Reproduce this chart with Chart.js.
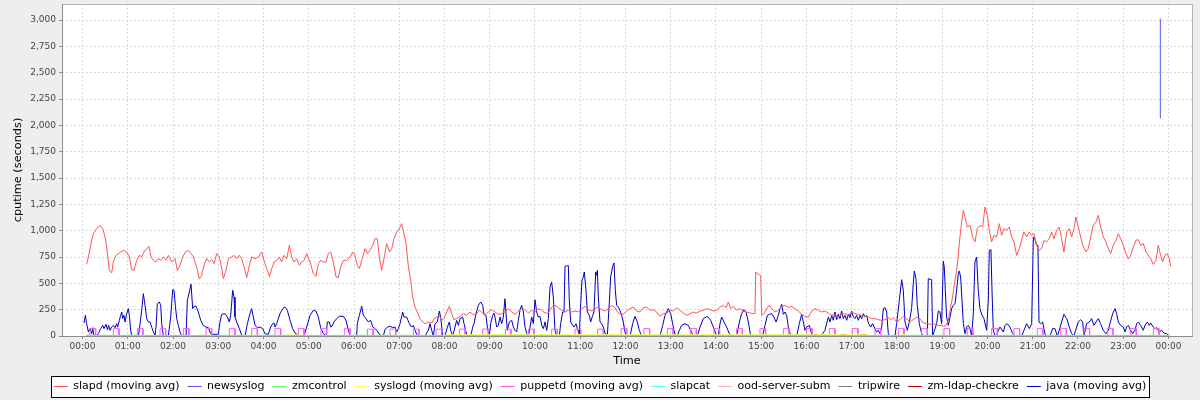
<!DOCTYPE html>
<html>
<head>
<meta charset="utf-8">
<script src="https://cdn.jsdelivr.net/npm/chart.js@4/dist/chart.umd.min.js"></script>
<style>
html,body{margin:0;padding:0;background:#eeeeee;}
#wrap{width:1200px;height:400px;}
</style>
</head>
<body>
<div id="wrap"><canvas id="c" width="1200" height="400"></canvas></div>
<script>
// ---------- axis ticks ----------
const hourTicks = [0,60,120,180,240,300,360,420,480,540,600,660,720,780,840,900,960,1020,1080,1140,1200,1260,1320,1380,1440];
const hourLabels = ['00:00','01:00','02:00','03:00','04:00','05:00','06:00','07:00','08:00','09:00','10:00','11:00','12:00','13:00','14:00','15:00','16:00','17:00','18:00','19:00','20:00','21:00','22:00','23:00','00:00'];
const yTickValues = [0,250,500,750,1000,1250,1500,1750,2000,2250,2500,2750,3000];
const yTickLabels = ['0','250','500','750','1,000','1,250','1,500','1,750','2,000','2,250','2,500','2,750','3,000'];

const seriesNames = ['slapd (moving avg)','newsyslog','zmcontrol','syslogd (moving avg)','puppetd (moving avg)','slapcat','ood-server-subm','tripwire','zm-ldap-checkre','java (moving avg)'];

// ---------- slapd (minutes since 00:00, cputime seconds) ----------
const slapdTime = [5.5,7.8,12.2,14.4,18.8,23.2,26.8,29.9,32.1,35.6,38.7,40.9,44.4,47.5,50.6,54.2,58.6,62.1,65.2,68.3,71.8,75.4,78.5,81.6,85.1,88.2,90.8,94.0,97.5,100.6,103.7,107.2,110.7,113.8,118.2,122.7,125.8,129.3,132.8,136.4,140.4,143.9,147.0,151.4,154.9,158.0,161.1,164.7,168.2,171.3,174.4,177.9,181.5,184.6,186.8,190.3,193.4,197.8,200.9,204.4,208.0,211.1,214.2,217.7,221.2,224.3,228.8,233.2,237.6,240.7,244.2,247.8,250.9,254.0,257.5,261.0,264.1,267.2,270.7,274.3,277.4,280.5,284.0,287.5,290.6,293.7,297.3,301.7,306.1,309.6,312.7,315.8,319.4,322.9,326.0,329.1,332.6,336.2,339.3,342.3,345.9,350.3,354.7,358.3,361.4,
364.4,367.1,370.2,374.6,377.7,381.2,384.8,387.9,390.9,393.6,396.7,399.8,403.3,406.9,410.0,413.0,416.6,420.1,423.2,425.4,429.0,432.1,435.1,437.8,440.9,444.0,447.5,451.1,454.2,458.6,463.0,466.1,469.6,473.2,476.2,479.3,482.9,486.4,489.5,492.6,496.1,500.6,505.0,509.4,513.8,517.4,521.8,526.2,529.3,533.7,538.1,542.6,547.0,551.4,555.8,560.2,564.7,569.1,573.5,577.9,582.3,586.8,591.2,595.6,600.0,604.4,608.9,613.3,617.7,622.1,626.5,631.0,635.4,639.8,644.2,648.6,653.1,657.5,661.9,666.3,670.7,675.2,679.6,684.0,688.4,692.8,697.3,701.7,706.1,710.5,714.9,
717.1,721.5,726.0,730.4,734.8,739.2,743.6,748.1,752.5,756.9,761.3,765.7,770.2,774.6,779.0,783.4,787.8,792.3,796.7,801.1,805.5,809.9,814.4,818.8,823.2,827.6,832.0,836.5,840.9,845.3,849.7,853.3,856.4,859.4,863.0,867.4,871.8,876.2,880.7,885.1,889.5,891.7,892.6,896.1,899.2,900.6,903.6,907.2,910.7,913.8,918.2,922.7,927.1,931.5,935.9,940.3,944.8,949.2,953.6,958.0,962.4,966.9,971.3,975.7,980.1,984.5,989.0,993.4,997.8,1002.2,1006.6,1011.1,1015.5,1019.9,1024.3,1028.7,1033.2,1037.6,1042.0,1046.4,1050.8,1055.3,1059.7,1064.1,1068.5,1072.9,
1075.1,1079.5,1084.0,1088.4,1092.8,1097.2,1101.6,1106.1,1110.5,1114.9,1119.3,1123.7,1128.2,1132.6,1137.0,1141.4,1145.0,1148.1,1151.1,1153.8,1156.9,1159.1,1161.3,1163.5,1165.7,1168.0,1170.2,1173.2,1176.8,1180.3,1183.4,1186.5,1190.0,1193.6,1196.7,1199.8,1202.4,1205.5,1208.6,1212.1,1215.7,1218.8,1221.9,1225.4,1228.9,1232.0,1235.1,1238.7,1242.2,1245.3,1248.4,1251.9,1255.5,1258.6,1261.6,1265.2,1268.7,1271.8,1274.9,1278.4,1282.0,1285.1,1288.2,1291.7,1295.2,1298.3,1301.4,1305.0,1308.5,1311.6,1314.7,1317.3,1320.4,1323.5,1327.1,1330.6,1333.7,1336.8,1340.3,1343.9,1347.0,1350.0,1353.6,1357.1,1360.2,1363.3,1366.8,1370.4,1373.5,1376.6,1380.1,1383.6,1386.7,1389.8,1393.4,1396.9,1400.0,1403.1,1406.6,1410.2,1413.3,1416.3,1419.9,1423.4,1426.5,1429.6,1432.3,1435.4,1438.5,1441.1,1442.9];
const slapdValue = [680,750,908,972,1019,1051,1019,940,845,623,598,703,766,782,798,813,798,750,630,623,718,766,750,798,829,851,750,718,703,734,718,750,718,766,703,734,623,671,750,798,813,782,750,655,544,576,671,734,703,725,687,782,750,639,544,623,734,750,766,734,766,734,655,554,671,750,734,750,798,718,639,566,639,703,718,750,703,766,734,861,750,703,734,671,703,718,782,703,592,566,687,718,703,703,782,798,703,560,554,655,718,718,750,798,766,
671,639,718,829,782,813,861,924,924,750,623,734,877,798,829,924,987,1019,1066,1003,877,655,529,370,275,228,165,133,117,133,123,165,180,196,149,165,228,282,212,155,165,187,212,196,228,206,206,244,228,196,228,250,228,206,212,228,260,228,206,237,260,250,218,244,228,260,244,218,218,275,291,269,244,228,244,228,237,228,260,282,250,237,260,275,250,237,260,291,269,218,206,
206,237,260,275,237,228,269,275,244,250,228,187,212,218,244,237,269,244,218,196,212,228,218,237,244,260,250,237,244,275,291,269,323,260,282,244,260,237,228,218,212,212,608,585,576,196,212,260,291,260,228,244,282,291,269,282,260,237,206,187,180,237,260,244,228,237,218,196,206,180,206,212,187,228,212,206,196,187,180,165,165,155,149,155,174,155,
174,133,155,187,165,133,155,180,165,123,117,111,117,104,101,92,101,149,275,370,529,623,766,940,1082,1193,1130,1035,1051,940,893,1019,1051,1035,1225,1146,1003,893,956,940,1066,956,1019,1003,1035,940,893,766,829,908,987,940,987,956,972,861,813,829,908,893,924,987,924,1003,1035,924,798,987,1019,940,1019,1130,1035,940,845,798,829,940,1051,1082,1146,1035,940,893,829,782,861,908,972,924,861,782,734,766,845,908,915,861,877,798,766,734,680,718,861,766,703,766,782,734,661];

// ---------- java ----------
const javaTime = [2.0,3.8,5.5,7.8,10.0,12.2,13.5,15.3,18.8,21.0,24.1,26.8,28.5,31.2,33.0,34.7,36.5,38.7,40.9,43.1,45.3,46.6,48.9,50.6,52.0,53.3,55.0,56.4,58.6,60.8,62.1,63.9,65.2,74.1,76.3,78.5,80.7,82.9,85.1,87.3,89.5,91.7,94.0,96.2,97.5,99.2,101.9,103.7,105.0,107.2,113.8,116.9,119.6,121.3,123.1,124.9,127.1,129.3,131.5,137.3,139.0,141.7,143.9,146.1,147.9,150.5,153.6,156.7,160.2,163.8,166.9,170.0,171.3,180.1,182.3,184.6,189.0,192.1,194.7,196.5,199.1,200.9,202.2,204.4,208.0,211.1,215.5,218.6,222.1,224.3,226.5,228.8,231.9,235.4,238.9,242.0,246.4,249.5,252.2,254.0,255.3,257.5,259.7,261.9,265.4,268.5,271.6,275.2,278.7,281.8,286.2,290.6,293.7,297.3,301.7,306.1,309.6,312.7,315.8,319.4,322.9,324.7,327.3,329.1,330.9,333.5,337.0,340.6,345.9,349.4,352.5,354.7,356.9,361.4,
363.5,364.4,367.1,370.2,372.4,375.9,379.0,382.1,384.8,387.9,390.9,393.6,396.7,398.9,401.1,404.2,407.7,411.3,414.4,416.6,418.8,421.0,424.5,426.3,429.8,433.4,436.5,438.7,440.9,443.1,445.3,454.2,458.6,460.8,463.0,465.2,467.4,470.5,473.2,474.9,477.6,480.7,483.8,486.4,488.2,490.8,493.9,496.1,498.4,500.6,504.1,505.9,508.5,510.3,514.7,517.4,519.1,521.8,524.9,528.0,530.6,532.4,535.0,536.8,539.5,541.2,543.9,545.6,547.0,549.2,551.4,553.6,555.8,558.0,560.2,561.6,563.3,566.0,569.1,571.3,573.5,575.7,577.9,580.1,582.3,584.5,586.8,589.0,591.2,593.4,595.6,597.8,600.0,602.2,604.4,606.6,608.9,611.1,613.3,615.5,617.7,619.9,622.1,624.3,626.5,628.7,632.3,634.0,636.7,638.5,639.8,642.9,644.2,645.5,647.3,650.0,651.7,654.4,656.1,658.8,660.6,662.3,664.1,665.4,667.6,669.4,672.1,673.8,676.5,678.2,680.5,681.8,682.7,684.0,686.2,688.4,690.6,692.8,695.9,698.6,700.3,703.0,704.8,706.5,708.3,710.5,712.7,714.9,
717.1,719.3,721.5,726.0,729.5,732.6,735.7,738.3,741.4,765.7,769.3,772.4,776.8,779.9,783.4,785.6,788.7,791.4,794.5,798.9,803.3,806.4,809.9,815.2,818.8,823.2,828.5,832.9,837.3,840.9,843.1,845.3,847.5,850.6,854.1,857.7,860.8,867.4,871.0,874.0,877.1,879.8,882.9,886.0,901.9,905.0,908.1,910.7,913.8,916.9,919.6,922.7,924.9,927.1,929.3,931.5,933.7,935.9,939.0,942.5,947.0,950.5,953.6,955.8,958.0,960.2,963.8,966.9,969.1,977.9,981.4,984.5,986.7,989.0,991.2,993.4,995.6,997.8,1000.0,1002.2,1004.4,1006.6,1008.8,1011.1,1013.3,1015.5,1017.7,1019.9,1022.1,1024.3,1026.5,1028.7,1031.0,1033.2,1035.4,1037.6,1039.8,1042.0,1045.1,1047.7,1050.8,1053.0,1055.3,1057.5,1059.7,1061.9,1064.1,1066.3,1068.5,1070.7,1075.1,
1077.3,1079.5,1083.1,1086.2,1088.4,1090.6,1093.7,1096.3,1099.4,1101.6,1103.0,1105.2,1106.9,1109.6,1112.7,1114.9,1120.2,1121.5,1125.9,1127.3,1132.6,1134.8,1137.0,1139.2,1141.4,1142.7,1144.1,1145.8,1148.1,1150.3,1152.5,1154.7,1156.9,1159.1,1161.3,1162.6,1164.4,1166.2,1168.0,1170.2,1172.4,1174.6,1176.8,1179.0,1181.2,1183.4,1185.6,1187.8,1190.0,1192.3,1195.3,1198.9,1201.1,1202.4,1204.6,1206.0,1207.7,1209.9,1212.1,1214.4,1216.6,1221.0,1223.2,1226.3,1229.8,1233.4,1236.5,1245.3,1248.4,1251.9,1255.5,1258.6,1260.8,1263.0,1265.2,1266.9,1268.3,1270.5,1273.1,1276.2,1278.4,1282.9,1286.4,1289.5,1292.6,1295.2,1298.3,1301.4,1305.0,1308.5,1311.6,1314.7,1318.2,1320.4,1323.5,1326.2,1327.9,1331.5,1335.0,1338.1,1341.2,1343.9,1347.0,1350.0,1353.6,1357.1,1360.2,1362.4,1366.0,1369.1,1371.3,1373.5,1376.6,1380.1,1382.3,1384.5,1386.7,1389.8,1392.5,1395.6,1397.8,1400.0,1403.1,1406.6,1408.8,1411.9,1414.6,1416.3,1419.9,1422.1,1424.3,1427.8,1430.9,1434.0,1437.6,1441.1];
const javaValue = [123,196,117,38,70,22,79,0,0,22,70,101,70,111,60,101,54,85,101,79,117,85,149,196,228,165,196,133,212,260,196,54,0,0,117,244,402,291,165,133,133,85,38,6,85,307,323,291,117,0,0,180,440,434,291,165,101,38,0,0,339,418,491,260,282,282,228,149,101,85,79,22,16,16,133,206,212,180,133,196,434,370,180,133,70,6,0,117,212,260,180,101,79,85,70,22,16,85,117,123,85,117,165,212,260,275,244,149,70,28,6,0,0,85,196,244,237,180,79,22,0,133,133,85,92,133,165,187,187,149,54,6,0,0,
0,117,196,282,196,165,133,149,85,70,47,16,0,0,60,85,92,79,85,38,70,117,228,180,180,117,85,101,54,16,0,0,54,117,54,0,117,133,237,180,0,0,85,133,54,0,85,149,101,165,180,117,38,0,0,85,117,212,291,323,291,206,196,85,0,117,196,218,180,85,101,180,117,180,354,212,54,133,149,85,54,38,149,244,291,228,85,22,0,85,180,117,345,228,180,187,101,70,133,54,165,465,513,370,54,0,0,117,228,228,661,668,668,339,133,101,85,117,70,16,307,529,560,608,434,228,196,133,196,228,608,576,623,370,133,117,85,28,0,323,560,661,693,434,291,275,244,196,
133,38,0,0,117,187,133,54,0,0,101,196,260,212,85,16,0,54,101,117,101,54,0,0,85,165,187,149,70,0,0,117,180,133,85,22,0,0,133,212,250,228,133,0,0,101,196,206,212,180,133,196,260,301,206,228,196,85,6,0,0,117,206,133,54,85,101,22,0,0,22,54,117,180,133,196,149,228,155,206,165,237,165,196,149,206,174,237,180,165,196,149,196,165,212,180,196,123,85,117,70,38,54,22,85,260,269,228,22,0,0,
0,117,339,535,434,133,54,133,260,497,617,544,291,117,22,0,0,544,535,0,117,237,228,117,709,655,434,180,101,180,260,291,307,434,592,617,560,339,117,22,85,101,70,0,212,703,750,434,260,206,165,54,339,813,820,434,54,0,0,54,85,38,101,117,85,22,0,0,54,117,70,117,940,915,861,861,133,117,133,22,0,0,70,70,0,54,133,206,165,85,22,0,85,133,155,133,0,117,133,165,101,133,165,117,54,22,54,117,212,260,212,133,101,85,38,85,101,54,22,54,117,133,101,54,101,133,101,123,85,70,79,38,54,28,22,0];

// ---------- newsyslog ----------
const newsyslogTime = [1428.9,1429.2,1430.2];
const newsyslogValue = [2067,3008,3008];

// ---------- puppetd (moving avg): pulses ----------
const puppetdStart = [10.0,40.9,72.7,102.8,133.7,163.8,194.7,224.3,255.3,286.2,316.3,347.2,377.7,407.7,438.7,468.7,499.7,530.6,560.7,591.2,622.1,653.1,683.1,714.2,744.5,775.5,806.4,837.3,867.4,898.3,929.3,960.2,990.3,1020.8,1050.8,1081.8,1112.7,1142.3,1173.2,1205.5,1235.1,1266.1,1297.0,1327.9,1358.9,1389.8,1419.9];
const puppetdEnd = [17.5,48.4,80.2,110.3,141.2,171.3,202.2,231.8,262.8,293.7,323.8,354.7,385.2,415.2,446.2,476.2,507.2,538.1,568.2,598.7,629.6,660.6,690.6,721.7,752.0,783.0,813.9,844.8,874.9,905.8,936.8,967.7,997.8,1028.3,1058.3,1089.3,1120.2,1149.8,1180.7,1213.0,1242.6,1273.6,1304.5,1335.4,1366.4,1397.3,1427.4];
const puppetdPeak = [70,70,70,70,70,70,70,70,70,70,70,70,65,65,65,65,65,65,65,65,65,65,65,70,70,70,70,70,70,70,70,70,70,70,70,70,70,70,70,70,70,70,70,70,70,70,70];
const puppetdRange = [5.0,1442.0];

// ---------- small near-zero series ----------
const zmcontrolTime = [5,60,120,180,240,300,360,420,480,540,600,660,720,780,840,900,960,1020,1080,1140,1200,1260,1320,1380,1442];
const zmcontrolValue = [6,6,5,6,6,5,6,6,5,6,6,5,6,6,5,6,6,5,6,6,5,6,6,5,6];
const syslogdTime = [5,268,272,288,292,478,483,1040,1045,1084,1086,1090,1092,1442];
const syslogdValue = [0,0,10,10,0,0,12,12,0,0,14,14,0,0];
const zmLdapTime = [5,964,966,974,976,1003,1005,1013,1015,1030,1032,1039,1041,1442];
const zmLdapValue = [0,0,12,12,0,0,12,12,0,0,12,12,0,0];
const slapcatTime = [5,1442];   const slapcatValue = [0,0];
const oodTime = [5,1442];       const oodValue = [0,0];
const tripwireTime = [5,1442];  const tripwireValue = [0,0];

// ---------- build ----------
function pairs(t, v){ const n = Math.min(t.length, v.length); const out=[]; for(let i=0;i<n;i++) out.push({x:t[i], y:v[i]}); return out; }
function pulseSeries(){
  const pts=[{x:puppetdRange[0], y:0}];
  for(let i=0;i<puppetdStart.length;i++){
    pts.push({x:puppetdStart[i],y:0},{x:puppetdStart[i],y:puppetdPeak[i]},{x:puppetdEnd[i],y:puppetdPeak[i]},{x:puppetdEnd[i],y:0});
  }
  pts.push({x:puppetdRange[1], y:0});
  return pts;
}
const colors = ['#FF5555','#5555FF','#55FF55','#FFFF55','#FF55FF','#55FFFF','#FFAFAF','#808080','#C00000','#0000C0'];
const seriesData = [
  pairs(slapdTime, slapdValue),
  pairs(newsyslogTime, newsyslogValue),
  pairs(zmcontrolTime, zmcontrolValue),
  pairs(syslogdTime, syslogdValue),
  pulseSeries(),
  pairs(slapcatTime, slapcatValue),
  pairs(oodTime, oodValue),
  pairs(tripwireTime, tripwireValue),
  pairs(zmLdapTime, zmLdapValue),
  pairs(javaTime, javaValue)
];

function legendBox(chart){
  const lg = chart.legend;
  if(!lg || !lg.legendHitBoxes || !lg.legendHitBoxes.length) return null;
  const hb = lg.legendHitBoxes;
  let l=Infinity,r=-Infinity,t=Infinity,b=-Infinity;
  hb.forEach(h=>{ l=Math.min(l,h.left); r=Math.max(r,h.left+h.width); t=Math.min(t,h.top); b=Math.max(b,h.top+h.height); });
  return {l:Math.round(l-3)+0.5, r:Math.round(r+3)+0.5, t:Math.round(t-5)+0.5, b:Math.round(b+5)+0.5};
}

const framePlugin = {
  id:'frame',
  afterLayout(chart){
    const lg = chart.legend;
    if(lg){ lg.left += 4; lg.right += 4; }
  },
  beforeDraw(chart){
    const {ctx, chartArea:a} = chart;
    ctx.save();
    ctx.fillStyle='#eeeeee'; ctx.fillRect(0,0,chart.width,chart.height);
    ctx.fillStyle='#ffffff'; ctx.fillRect(a.left,a.top,a.right-a.left,a.bottom-a.top);
    const bx = legendBox(chart);
    if(bx){ ctx.fillRect(bx.l,bx.t,bx.r-bx.l,bx.b-bx.t); }
    ctx.restore();
  },
  afterDraw(chart){
    const {ctx, chartArea:a} = chart;
    ctx.save();
    ctx.lineWidth=1;
    ctx.strokeStyle='#b4b4b4';
    ctx.strokeRect(a.left+0.5,a.top+0.5,a.right-a.left,a.bottom-a.top);
    ctx.strokeStyle='#8c8c8c';
    ctx.beginPath();
    ctx.moveTo(a.left+0.5,a.top); ctx.lineTo(a.left+0.5,a.bottom+1);
    ctx.moveTo(a.left,a.bottom+0.5); ctx.lineTo(a.right+1,a.bottom+0.5);
    ctx.stroke();
    const bx = legendBox(chart);
    if(bx){ ctx.strokeStyle='#000000'; ctx.strokeRect(bx.l,bx.t,bx.r-bx.l,bx.b-bx.t); }
    ctx.restore();
  }
};

Chart.defaults.font.family = "'DejaVu Sans', sans-serif";

new Chart(document.getElementById('c'), {
  type:'line',
  data:{
    datasets: seriesNames.map((name,i)=>({
      label:name,
      data:seriesData[i],
      borderColor:colors[i],
      backgroundColor:colors[i],
      pointBorderColor:colors[i],
      pointBackgroundColor:colors[i],
      pointBorderWidth:1,
      borderWidth:1,
      pointRadius:0,
      pointHoverRadius:0,
      tension:0,
      fill:false
    }))
  },
  options:{
    responsive:false,
    animation:false,
    devicePixelRatio:1,
    events:[],
    layout:{padding:{top:4,right:8,bottom:3,left:0}},
    plugins:{
      tooltip:{enabled:false},
      legend:{
        display:true,
        position:'bottom',
        maxHeight:24,
        labels:{
          usePointStyle:true,
          pointStyle:'line',
          pointStyleWidth:14,
          boxHeight:11,
          padding:8,
          color:'#000000',
          font:{family:"'DejaVu Sans', sans-serif", size:11},
          generateLabels:(chart)=>chart.data.datasets.map((ds,i)=>({
            text:ds.label,
            datasetIndex:i,
            fillStyle:ds.borderColor,
            strokeStyle:ds.borderColor,
            lineWidth:1,
            pointStyle:'line',
            hidden:false,
            fontColor:'#000000'
          }))
        }
      }
    },
    scales:{
      x:{
        type:'linear',
        min:-27.2,
        max:1471.2,
        afterBuildTicks:(s)=>{ s.ticks = hourTicks.map(v=>({value:v})); },
        afterFit:(s)=>{ s.height = 37; s.paddingLeft = 0; s.paddingRight = 0; },
        ticks:{
          autoSkip:false, maxRotation:0, minRotation:0, padding:2,
          color:'#444444',
          font:{size:9},
          callback:(v,i)=>hourLabels[i]
        },
        grid:{color:'#d9d9d9', lineWidth:1, drawTicks:true, tickLength:3, tickColor:'#8c8c8c', tickWidth:1},
        border:{display:false, dash:[2,2]},
        title:{display:true, text:'Time', color:'#000000', font:{size:11.3}, padding:{top:0,bottom:5}}
      },
      y:{
        type:'linear',
        min:0,
        max:3152,
        afterBuildTicks:(s)=>{ s.ticks = yTickValues.map(v=>({value:v})); },
        afterFit:(s)=>{ s.width = 62; s.paddingTop = 0; s.paddingBottom = 0; },
        ticks:{
          padding:3,
          color:'#444444',
          font:{size:9},
          callback:(v,i)=>yTickLabels[i]
        },
        grid:{color:'#d9d9d9', lineWidth:1, drawTicks:true, tickLength:3, tickColor:'#8c8c8c', tickWidth:1},
        border:{display:false, dash:[2,2]},
        title:{display:true, text:'cputime (seconds)', color:'#000000', font:{size:11.3}, padding:{top:11,bottom:0}}
      }
    }
  },
  plugins:[framePlugin]
});
</script>
</body>
</html>
